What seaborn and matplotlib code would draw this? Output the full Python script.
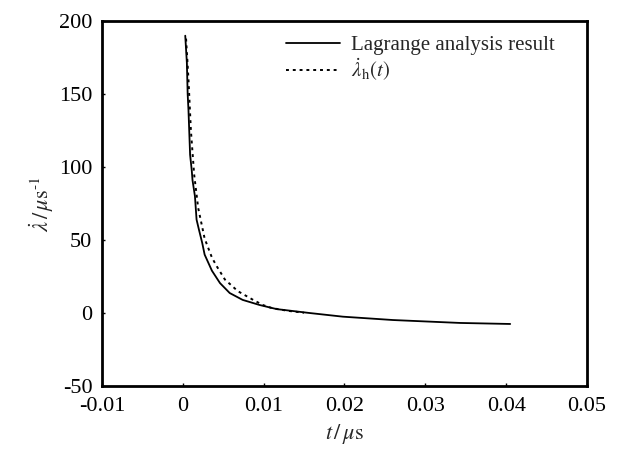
import pandas as pd
import matplotlib.pyplot as plt
import seaborn as sns

# Lagrange analysis result (solid)
t_lagrange = [0.0003, 0.0005, 0.0005, 0.0006, 0.0007, 0.0009, 0.0009, 0.0011, 0.0012,
              0.0015, 0.0017, 0.0020, 0.0024, 0.0027, 0.0036, 0.0046, 0.0058, 0.0074,
              0.0095, 0.0116, 0.0157, 0.0198, 0.0260, 0.0343, 0.0405]
lam_lagrange = [190, 175, 168, 150, 139, 112, 105, 98, 91,
                80, 64, 57, 48, 40, 29, 20.5, 13.7, 9,
                5.5, 2.7, 0, -2.5, -4.8, -6.8, -7.5]

# fitted curve lambda_h(t) (dotted)
t_fit = [0.0004, 0.0007, 0.0010, 0.0014, 0.0019, 0.0027, 0.0036, 0.0042, 0.0052,
         0.0068, 0.0087, 0.0099, 0.0110, 0.0130, 0.0150]
lam_fit = [188, 160, 125, 95, 72, 51, 38, 32, 23,
           15, 9, 5.5, 3.4, 1.5, 0.2]

x_ticks = [-0.01, 0, 0.01, 0.02, 0.03, 0.04, 0.05]
x_tick_labels = ["-0.01", "0", "0.01", "0.02", "0.03", "0.04", "0.05"]
y_ticks = [-50, 0, 50, 100, 150, 200]
y_tick_labels = ["-50", "0", "50", "100", "150", "200"]

sns.set_style("ticks")
plt.rcParams['font.family'] = ['Liberation Serif', 'DejaVu Serif']
plt.rcParams['mathtext.fontset'] = 'stix'
plt.rcParams['axes.unicode_minus'] = False

df_l = pd.DataFrame({"t": t_lagrange, "lam": lam_lagrange})
df_f = pd.DataFrame({"t": t_fit, "lam": lam_fit})

fig = plt.figure(figsize=(6.23, 4.49), dpi=100)
ax = fig.add_axes([0.1637, 0.1403, 0.7785, 0.8127])

sns.lineplot(data=df_l, x="t", y="lam", sort=False, color="black", linewidth=1.3,
             label="Lagrange analysis result", ax=ax)
sns.lineplot(data=df_f, x="t", y="lam", sort=False, color="black", linewidth=1.4,
             linestyle=(0, (1.5, 2)), label=r"$\dot{\lambda}_{\mathrm{h}}(t)$", ax=ax)

ax.set_xlim(-0.01, 0.05)
ax.set_ylim(-50, 200)
ax.set_xticks(x_ticks)
ax.set_xticklabels(x_tick_labels)
ax.set_yticks(y_ticks)
ax.set_yticklabels(y_tick_labels)
ax.tick_params(direction="in", length=2, width=1, labelsize=16, colors="black")
ax.tick_params(axis="x", pad=8)
ax.tick_params(axis="y", pad=7)

ax.set_xlabel(r"$t\,/\,\mu\mathrm{s}$", fontsize=16, labelpad=4)
ax.set_ylabel(r"$\dot{\lambda}\,/\,\mu\mathrm{s}^{\text{-}1}$", fontsize=16, labelpad=2)

for s in ax.spines.values():
    s.set_linewidth(2)
    s.set_color("black")

ax.legend(loc="upper right", bbox_to_anchor=(0.963, 1.0), frameon=False, fontsize=15,
          handlelength=2.6, handletextpad=0.5, labelspacing=0.05, borderaxespad=0.3)

fig.savefig("out.png", dpi=100)
